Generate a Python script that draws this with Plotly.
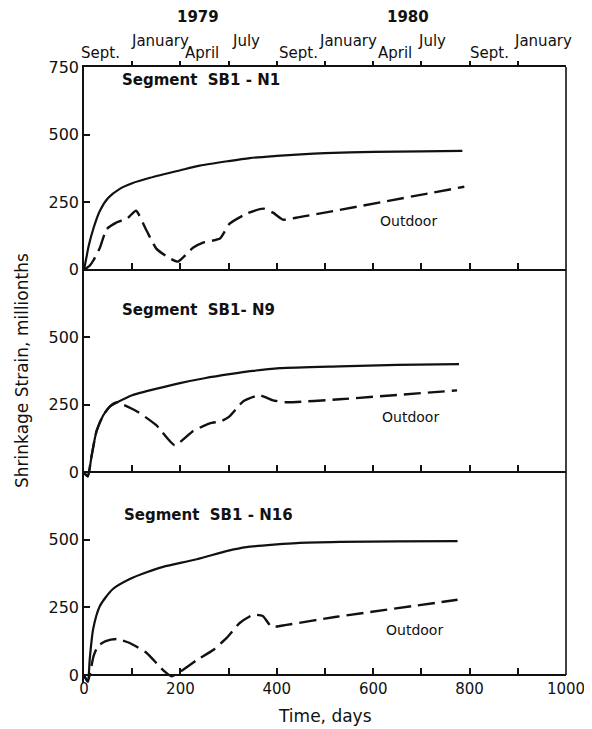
import plotly.graph_objects as go

# ---------------- data ----------------
# Segment SB1-N1
n1_days = [0, 5, 10, 20, 33, 50, 75, 100, 137, 200, 240, 300, 344, 400, 450, 500, 600, 700, 785]
n1_vals = [0, 45, 90, 155, 218, 265, 300, 320, 340, 368, 385, 402, 413, 421, 427, 431, 436, 438, 440]
n1_out_days = [0, 12, 19, 33, 47, 67, 90, 108, 130, 150, 175, 195, 226, 247, 282, 302, 337, 372, 392, 413, 440, 789]
n1_out_vals = [0, 15, 33, 81, 150, 174, 190, 218, 144, 78, 45, 30, 81, 100, 115, 170, 207, 226, 211, 185, 192, 307]

# Segment SB1-N9
n9_days = [0, 4, 8, 16, 26, 40, 54, 68, 100, 130, 199, 250, 302, 350, 406, 530, 650, 778]
n9_vals = [0, -10, -15, 63, 152, 211, 244, 258, 285, 300, 330, 348, 363, 375, 385, 392, 397, 400]
n9_out_days = [0, 4, 8, 16, 26, 40, 54, 68, 110, 150, 188, 226, 261, 285, 302, 330, 364, 392, 420, 530, 774]
n9_out_vals = [0, -10, -15, 63, 152, 211, 244, 258, 225, 174, 100, 152, 181, 189, 207, 262, 285, 266, 259, 270, 303]

# Segment SB1-N16
n16_days = [0, 4, 8, 12, 19, 33, 60, 95, 130, 164, 234, 300, 337, 400, 441, 530, 650, 775]
n16_vals = [0, -15, -25, 60, 170, 255, 318, 355, 380, 400, 428, 460, 473, 483, 488, 492, 494, 495]
n16_out_days = [0, 4, 8, 14, 20, 29, 45, 68, 95, 130, 164, 182, 199, 234, 268, 296, 323, 350, 371, 389, 420, 524, 775]
n16_out_vals = [0, -15, -25, 20, 70, 107, 125, 133, 118, 81, 18, -5, 11, 55, 92, 137, 192, 222, 218, 178, 185, 215, 278]

panel_titles = ["Segment  SB1 - N1", "Segment  SB1- N9", "Segment  SB1 - N16"]

x_tick_vals = [0, 100, 200, 300, 400, 500, 600, 700, 800, 900, 1000]
x_tick_text = ["0", "", "200", "", "400", "", "600", "", "800", "", "1000"]

month_labels = ["Sept.", "January", "April", "July", "Sept.", "January", "April", "July", "Sept.", "January"]
month_days = [35, 158, 245, 336, 444, 548, 645, 722, 842, 952]
month_row = [0, 1, 0, 1, 0, 1, 0, 1, 0, 1]  # 0 = lower row, 1 = upper row
year_labels = ["1979", "1980"]
year_days = [237, 672]

# ---------------- layout geometry ----------------
# The page body has a default 8px margin, so the figure is drawn 8px in from
# the window's top-left corner; positions below are window pixels.
OFF = 8
WIN_W, WIN_H = 592, 729
W, H = WIN_W - OFF, WIN_H - OFF
LEFT, RIGHT = 84, 566
TOP = 67
ZERO = [269.7, 472.3, 675.0]
YMIN, YMAX = -30, 750
k = (ZERO[2] - TOP) / (3 * 750.0)          # px per unit
BOT = ZERO[2] - YMIN * k
PH = BOT - TOP


def frac(p):
    return (BOT - p) / PH


FONT = "DejaVu Sans"
BLACK = "#111111"

fig = go.Figure()

series = [
    (n1_days, n1_vals, n1_out_days, n1_out_vals),
    (n9_days, n9_vals, n9_out_days, n9_out_vals),
    (n16_days, n16_vals, n16_out_days, n16_out_vals),
]

for i, (sd, sv, od, ov) in enumerate(series):
    xa = "x" if i == 0 else f"x{i+1}"
    ya = "y" if i == 0 else f"y{i+1}"
    fig.add_trace(go.Scatter(x=sd, y=sv, mode="lines", xaxis=xa, yaxis=ya,
                             line=dict(color=BLACK, width=2.2, shape="spline", smoothing=0.7),
                             showlegend=False, hoverinfo="skip"))
    fig.add_trace(go.Scatter(x=od, y=ov, mode="lines", xaxis=xa, yaxis=ya,
                             line=dict(color=BLACK, width=2.4, dash="17px,7px", shape="spline", smoothing=0.5),
                             showlegend=False, hoverinfo="skip"))

# empty trace so the top (month) axis is drawn
fig.add_trace(go.Scatter(x=[], y=[], xaxis="x4", yaxis="y", showlegend=False))

axis_common = dict(showgrid=False, zeroline=False, showline=True, linecolor=BLACK, linewidth=1.6,
                   ticks="inside", ticklen=6, tickwidth=1.5, tickcolor=BLACK, automargin=False)

layout = dict(width=W, height=H, paper_bgcolor="white", plot_bgcolor="rgba(0,0,0,0)",
              margin=dict(l=LEFT - OFF, r=WIN_W - RIGHT, t=TOP - OFF, b=WIN_H - BOT, pad=0,
                          autoexpand=False),
              showlegend=False)

for i in range(3):
    xkey = "xaxis" if i == 0 else f"xaxis{i+1}"
    ykey = "yaxis" if i == 0 else f"yaxis{i+1}"
    xname = "x" if i == 0 else f"x{i+1}"
    top_px = ZERO[i] - YMAX * k
    bot_px = ZERO[i] - YMIN * k
    xa = dict(axis_common, range=[0, 1000], domain=[0, 1], anchor="free", position=frac(ZERO[i]),
              tickvals=x_tick_vals[1:-1], showticklabels=False,
              tickfont=dict(family=FONT, size=15, color=BLACK))
    if i == 2:
        xa.update(tickvals=x_tick_vals, ticktext=x_tick_text, showticklabels=True)
    if i > 0:
        xa["matches"] = "x"
    layout[xkey] = xa
    yt = [0, 250, 500, 750] if i == 0 else [0, 250, 500]
    layout[ykey] = dict(axis_common, range=[YMIN, YMAX], domain=[frac(bot_px), frac(top_px)],
                        anchor=xname, tickvals=yt, ticktext=[str(v) for v in yt],
                        tickfont=dict(family=FONT, size=16, color=BLACK))

layout["xaxis4"] = dict(showgrid=False, zeroline=False, showline=True, linecolor=BLACK, linewidth=1.6,
                        overlaying="x", side="top", anchor="y", range=[0, 1000], automargin=False,
                        tickvals=x_tick_vals[1:-1], ticks="outside", ticklen=4, tickwidth=1.5,
                        tickcolor=BLACK, showticklabels=False)

fig.update_layout(**layout)

# right border of the frame
fig.add_shape(type="line", xref="paper", yref="paper", x0=1, x1=1, y0=frac(ZERO[2]), y1=1,
              line=dict(color=BLACK, width=1.6))

ann = []
title_pos = [(75, 702), (75, 601), (79, 592)]
for i, t in enumerate(panel_titles):
    xname = "x" if i == 0 else f"x{i+1}"
    yname = "y" if i == 0 else f"y{i+1}"
    ann.append(dict(text=t, x=title_pos[i][0], y=title_pos[i][1], xref=xname, yref=yname,
                    xanchor="left", yanchor="middle", showarrow=False,
                    font=dict(family=FONT, size=15, color=BLACK, weight="bold")))
out_pos = [(673, 180), (677, 205), (685, 167)]
for i, (dx, dy) in enumerate(out_pos):
    xname = "x" if i == 0 else f"x{i+1}"
    yname = "y" if i == 0 else f"y{i+1}"
    ann.append(dict(text="Outdoor", x=dx, y=dy, xref=xname, yref=yname, xanchor="center",
                    yanchor="middle", showarrow=False, font=dict(family=FONT, size=14, color=BLACK)))

for lab, d, r in zip(month_labels, month_days, month_row):
    ann.append(dict(text=lab, x=d, y=frac(41 if r else 53), xref="x", yref="paper",
                    xanchor="center", yanchor="middle", showarrow=False,
                    font=dict(family=FONT, size=15, color=BLACK)))
for lab, d in zip(year_labels, year_days):
    ann.append(dict(text=lab, x=d, y=frac(17), xref="x", yref="paper", xanchor="center",
                    yanchor="middle", showarrow=False,
                    font=dict(family=FONT, size=15, color=BLACK, weight="bold")))

ann.append(dict(text="Shrinkage Strain, millionths", x=(22 - LEFT) / (RIGHT - LEFT), y=frac(371),
                xref="paper", yref="paper", textangle=-90, xanchor="center", yanchor="middle",
                showarrow=False, font=dict(family=FONT, size=17, color=BLACK)))
ann.append(dict(text="Time, days", x=0.5, y=frac(716), xref="paper", yref="paper",
                xanchor="center", yanchor="middle", showarrow=False,
                font=dict(family=FONT, size=17, color=BLACK)))

fig.update_layout(annotations=ann)
fig.write_html("out.html")
